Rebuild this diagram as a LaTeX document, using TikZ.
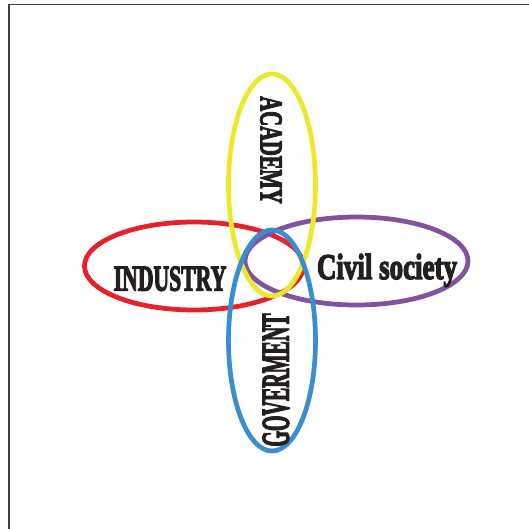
\documentclass[tikz,border=0pt]{standalone}
\usepackage{fontspec}
\setmainfont{Liberation Serif}[BoldFeatures={FakeBold=4}]
\definecolor{indred}{HTML}{E8202A}
\definecolor{acayellow}{HTML}{EEE82A}
\definecolor{civpurple}{HTML}{8450A0}
\definecolor{govblue}{HTML}{3A8ED0}
\definecolor{inkdark}{HTML}{231F20}
\newcommand{\squeeze}[2]{\scalebox{#1}[1]{#2}}
\begin{document}
\begin{tikzpicture}[x=0.02cm, y=-0.02cm, line width=2.7pt,
  sector/.style={inner sep=0pt, text=inkdark, font=\bfseries}]
\useasboundingbox (0,0) rectangle (529,529);
% frame
\draw[line width=0.6pt, black!75] (9,529) -- (9,4.5) -- (529,4.5);
% ellipses
\draw[indred] (194,266) ellipse (109.5 and 44);
\draw[civpurple] (356.5,261) ellipse (111.5 and 44);
\draw[acayellow] (272,185) ellipse (43.5 and 111);
\draw[govblue] (272,340.5) ellipse (43.5 and 110.5);
% labels
\begin{scope}[every node/.style={sector}]
\node[font=\fontsize{20.6}{22}\selectfont\bfseries] (ind) at (170,278.7) {\squeeze{0.60}{INDUSTRY}};
\node[font=\fontsize{20.6}{22}\selectfont\bfseries, anchor=base] (civ) at (387,279) {\squeeze{0.745}{Civil society}};
\node[font=\fontsize{18}{20}\selectfont\bfseries, rotate=-90] (aca) at (271,150) {\squeeze{0.65}{ACADEMY}};
\node[font=\fontsize{22.3}{24}\selectfont\bfseries, rotate=90] (gov) at (276,380) {\squeeze{0.51}{GOVERMENT}};
\end{scope}
\end{tikzpicture}
\end{document}
